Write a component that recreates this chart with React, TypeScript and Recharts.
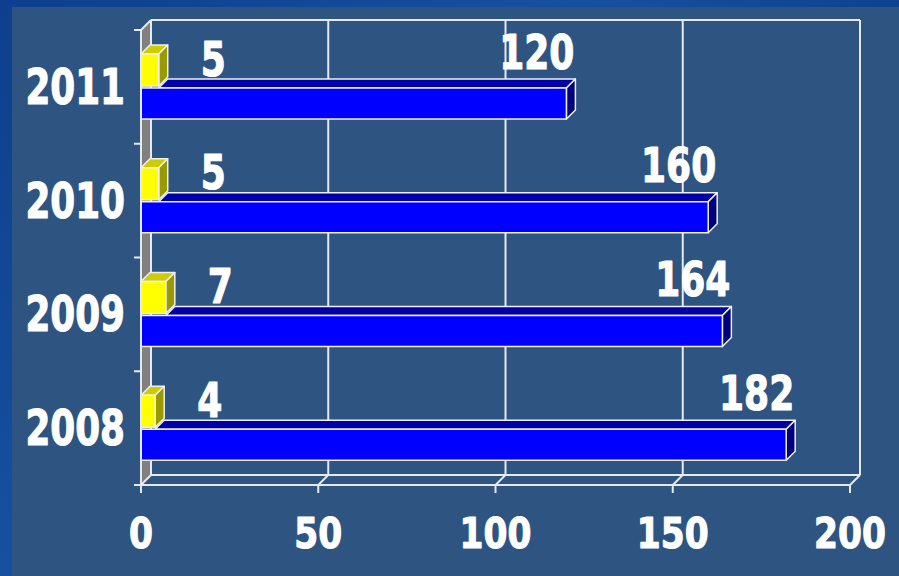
import { BarChart, Bar, XAxis, YAxis, CartesianGrid, LabelList } from 'recharts';

const years = ['2011', '2010', '2009', '2008'];
const minorCounts = [5, 5, 7, 4];
const majorCounts = [120, 160, 164, 182];
const xTicks = [0, 50, 100, 150, 200];

const rows = years.map((year, i) => ({ year, minor: minorCounts[i], major: majorCounts[i] }));

// plot frame (front plane) and 3D depth
const W = 899;
const H = 576;
const LEFT = 141;
const RIGHT = 850;
const TOP = 30;
const BOTTOM = 485;
const DEPTH = 10;
const BAR_DEPTH = 9;
const BAND = (BOTTOM - TOP) / years.length;
const LINE = '#e6e9ee';
const FONT = '"DejaVu Sans", Verdana, sans-serif';

function BoldText({ x, y, size, squeeze, anchor, children }: any) {
  // y is the visual centre of the digits
  return (
    <text
      transform={`translate(${x},${y + size * 0.365}) scale(${squeeze},1)`}
      textAnchor={anchor}
      fontFamily={FONT}
      fontWeight="bold"
      fontSize={size}
      fill="#ffffff"
      stroke="#ffffff"
      strokeWidth={1.2}
      strokeLinejoin="round"
    >
      {children}
    </text>
  );
}

function YearTick({ y, payload, index }: any) {
  const half = BAND / 2;
  return (
    <g>
      <line x1={LEFT - 7} x2={LEFT} y1={y - half} y2={y - half} stroke={LINE} strokeWidth={2} />
      {index === years.length - 1 && (
        <line x1={LEFT - 7} x2={LEFT} y1={y + half} y2={y + half} stroke={LINE} strokeWidth={2} />
      )}
      <BoldText x={LEFT - 16} y={y - 1} size={49} squeeze={0.73} anchor="end">
        {payload.value}
      </BoldText>
    </g>
  );
}

function ValueTick({ x, payload }: any) {
  return (
    <BoldText x={x} y={532} size={43} squeeze={0.8} anchor="middle">
      {payload.value}
    </BoldText>
  );
}

function WallLine(p: any) {
  const { x1, index } = p;
  const first = index === 0 || Math.abs(x1 - LEFT) < 1;
  return (
    <g key={`wall-${index}`}>
      {first && (
        <g>
          <polygon
            points={`${LEFT},${TOP} ${LEFT + DEPTH},${TOP - DEPTH} ${LEFT + DEPTH},${BOTTOM - DEPTH} ${LEFT},${BOTTOM}`}
            fill="#808080"
          />
          <line x1={LEFT} y1={TOP} x2={LEFT + DEPTH} y2={TOP - DEPTH} stroke={LINE} strokeWidth={2} />
          <line x1={LEFT + DEPTH} y1={TOP - DEPTH} x2={RIGHT + DEPTH} y2={TOP - DEPTH} stroke={LINE} strokeWidth={2} />
          <line x1={LEFT + DEPTH} y1={BOTTOM - DEPTH} x2={RIGHT + DEPTH} y2={BOTTOM - DEPTH} stroke={LINE} strokeWidth={2} />
        </g>
      )}
      <line x1={x1 + DEPTH} y1={TOP - DEPTH} x2={x1 + DEPTH} y2={BOTTOM - DEPTH} stroke={LINE} strokeWidth={2} />
      <line x1={x1} y1={BOTTOM} x2={x1 + DEPTH} y2={BOTTOM - DEPTH} stroke={LINE} strokeWidth={2} />
    </g>
  );
}

function Box({ x, y, w, h, skip, front, top, side }: any) {
  const d = BAR_DEPTH;
  return (
    <g stroke="#f0f0f0" strokeWidth={1.5} strokeLinejoin="round">
      <polygon
        points={`${x + skip},${y} ${x + w},${y} ${x + w + d},${y - d} ${x + skip + d},${y - d}`}
        fill={top}
      />
      <polygon points={`${x + w},${y} ${x + w + d},${y - d} ${x + w + d},${y + h - d} ${x + w},${y + h}`} fill={side} />
      <rect x={x} y={y} width={w} height={h} fill={front} />
    </g>
  );
}

function YellowBar(props: any) {
  const { x, y, width, height } = props;
  return <Box x={x} y={y} w={width} h={height} skip={0} front="#ffff00" top="#cccc00" side="#999900" />;
}

function BlueBar(props: any) {
  const { x, y, width, height, payload } = props;
  // the yellow box sits in front of the left part of the blue top face
  const skip = payload.major ? payload.minor * (width / payload.major) : 0;
  return <Box x={x} y={y} w={width} h={height} skip={skip} front="#0000ff" top="#0000aa" side="#000080" />;
}

function MinorLabel({ x, y, width, value }: any) {
  return (
    <BoldText x={x + width + 42} y={y + 4} size={48} squeeze={0.75} anchor="start">
      {value}
    </BoldText>
  );
}

function MajorLabel({ x, y, width, value }: any) {
  return (
    <BoldText x={x + width + 8} y={y - 37} size={48} squeeze={0.75} anchor="end">
      {value}
    </BoldText>
  );
}

export default function App() {
  return (
    <div
      style={{
        position: 'fixed',
        left: 0,
        top: 0,
        width: W,
        height: H,
        background: 'linear-gradient(135deg, #0d3f8e 0%, #16519f 40%, #0b3c88 70%, #14509c 100%)',
      }}
    >
      <div style={{ position: 'absolute', left: 12, top: 7, right: 0, bottom: 0, background: '#2e5581' }} />
      <div style={{ position: 'absolute', left: 0, top: 0 }}>
        <BarChart
          width={W}
          height={H}
          data={rows}
          layout="vertical"
          barGap={2}
          margin={{ top: TOP, right: W - RIGHT, bottom: 0, left: 0 }}
        >
          <CartesianGrid horizontal={false} vertical={WallLine} />
          <XAxis
            type="number"
            domain={[0, 200]}
            ticks={xTicks}
            height={H - BOTTOM}
            axisLine={{ stroke: LINE, strokeWidth: 2 }}
            tickLine={{ stroke: LINE, strokeWidth: 2 }}
            tickSize={8}
            tick={<ValueTick />}
          />
          <YAxis
            type="category"
            dataKey="year"
            width={LEFT}
            axisLine={{ stroke: LINE, strokeWidth: 2 }}
            tickLine={false}
            tick={<YearTick />}
          />
          <Bar dataKey="minor" barSize={32} shape={<YellowBar />} isAnimationActive={false}>
            <LabelList dataKey="minor" content={<MinorLabel />} />
          </Bar>
          <Bar dataKey="major" barSize={31} shape={<BlueBar />} isAnimationActive={false}>
            <LabelList dataKey="major" content={<MajorLabel />} />
          </Bar>
        </BarChart>
      </div>
    </div>
  );
}
